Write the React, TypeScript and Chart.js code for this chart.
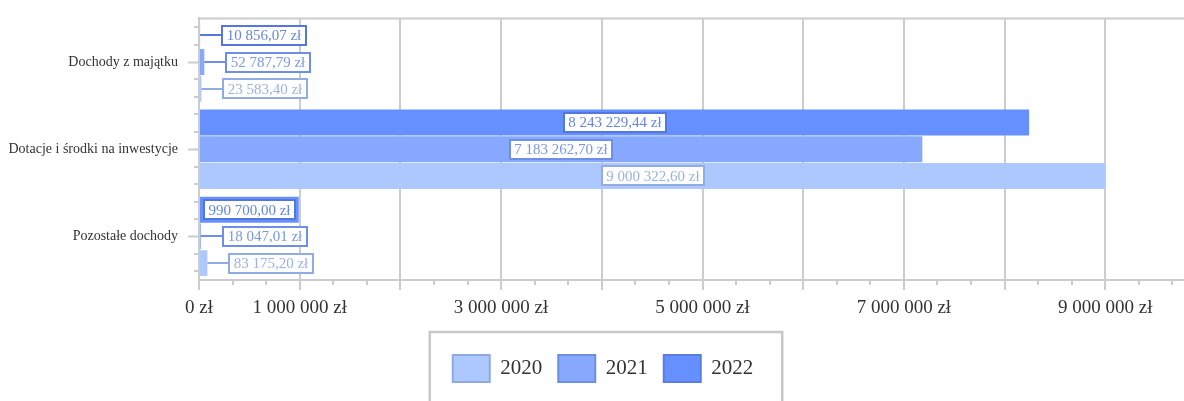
import React, { useEffect, useRef } from 'react';
import { Chart, registerables } from 'chart.js';

Chart.register(...registerables);

// ---- data ----
const categories = ['Dochody z majątku', 'Dotacje i środki na inwestycje', 'Pozostałe dochody'];
const seriesNames = ['2022', '2021', '2020'];
const values2022 = [10856.07, 8243229.44, 990700.0];
const values2021 = [52787.79, 7183262.7, 18047.01];
const values2020 = [23583.4, 9000322.6, 83175.2];
const xTickLabelValues = [0, 1000000, 3000000, 5000000, 7000000, 9000000];
const xMin = 0;
const xMax = 10000000;
const xStep = 1000000;

// ---- styles ----
const FONT = "'Liberation Serif', 'Times New Roman', serif";
const fills = ['#6690ff', '#87a8ff', '#adc8ff'];
const swatchBorders = ['#5a7ddf', '#6e8fe0', '#8faae0'];
const labelBorders = ['#5577dd', '#6f8fe6', '#91abe3'];
const labelTexts = ['#6685e0', '#7a96e6', '#9ab2e6'];
const GRID = '#cccccc';

function groupInt(s: string) {
  return s.replace(/\B(?=(\d{3})+(?!\d))/g, ' ');
}
function formatZl(v: number) {
  const [i, f] = v.toFixed(2).split('.');
  return `${groupInt(i)},${f} zł`;
}
function formatTick(v: number) {
  return `${groupInt(String(Math.round(v)))} zł`;
}

const axisDecor = {
  id: 'axisDecor',
  afterDraw(chart: any) {
    const { ctx, chartArea, scales } = chart;
    const x = scales.x;
    const y = scales.y;
    ctx.save();
    ctx.strokeStyle = GRID;
    ctx.lineWidth = 2;
    ctx.beginPath();
    // top frame line
    ctx.moveTo(chartArea.left - 1, chartArea.top);
    ctx.lineTo(chartArea.right, chartArea.top);
    // x minor ticks (thirds)
    const minorX = xStep / 3;
    for (let k = 1; k * minorX < xMax; k++) {
      if (k % 3 === 0) continue;
      const px = Math.round(x.getPixelForValue(k * minorX));
      ctx.moveTo(px, chartArea.bottom);
      ctx.lineTo(px, chartArea.bottom + 5);
    }
    // y minor ticks (fifths)
    for (let i = 0; i < categories.length; i++) {
      for (const j of [-2, -1, 1, 2]) {
        const py = Math.round(y.getPixelForValue(i + j * 0.2));
        ctx.moveTo(chartArea.left - 5, py);
        ctx.lineTo(chartArea.left, py);
      }
    }
    ctx.stroke();

    // legend frame
    const lg = chart.legend;
    if (lg && lg.legendHitBoxes && lg.legendHitBoxes.length) {
      const hb = lg.legendHitBoxes;
      const l = Math.min(...hb.map((h: any) => h.left)) - 23;
      const r = Math.max(...hb.map((h: any) => h.left + h.width)) + 29;
      const t = lg.top - 7;
      ctx.beginPath();
      ctx.lineWidth = 2.5;
      ctx.strokeStyle = '#c8c8c8';
      ctx.moveTo(l, chart.height + 5);
      ctx.lineTo(l, t);
      ctx.lineTo(r, t);
      ctx.lineTo(r, chart.height + 5);
      ctx.stroke();
    }
    ctx.restore();
  },
};

const valueLabels = {
  id: 'valueLabels',
  afterDatasetsDraw(chart: any) {
    const ctx = chart.ctx;
    ctx.save();
    ctx.font = `15px ${FONT}`;
    ctx.textBaseline = 'middle';
    ctx.textAlign = 'center';
    chart.data.datasets.forEach((ds: any, di: number) => {
      const meta = chart.getDatasetMeta(di);
      meta.data.forEach((bar: any, j: number) => {
        const { x, y, base } = bar.getProps(['x', 'y', 'base'], true);
        const text = formatZl(ds.data[j]);
        const w = ctx.measureText(text).width;
        const bw = Math.round(w + 9);
        const bh = 19;
        const len = Math.abs(x - base);
        let left: number;
        if (bw + 4 <= len) {
          left = Math.round((x + base) / 2 - bw / 2);
        } else {
          left = Math.round(x + 22);
          ctx.beginPath();
          ctx.strokeStyle = labelBorders[di];
          ctx.lineWidth = 2;
          ctx.moveTo(x, Math.round(y));
          ctx.lineTo(left, Math.round(y));
          ctx.stroke();
        }
        const top = Math.round(y - bh / 2);
        ctx.fillStyle = '#ffffff';
        ctx.fillRect(left, top, bw, bh);
        ctx.strokeStyle = labelBorders[di];
        ctx.lineWidth = 2;
        ctx.strokeRect(left, top, bw, bh);
        ctx.fillStyle = labelTexts[di];
        ctx.fillText(text, left + bw / 2, y + 1);
      });
    });
    ctx.restore();
  },
};

export default function App() {
  const ref = useRef<HTMLCanvasElement>(null);

  useEffect(() => {
    if (!ref.current) return;
    const seriesValues = [values2022, values2021, values2020];
    const chart = new Chart(ref.current, {
      type: 'bar',
      data: {
        labels: categories,
        datasets: seriesNames.map((name, i) => ({
          label: name,
          data: seriesValues[i],
          backgroundColor: fills[i],
          borderWidth: 0,
          categoryPercentage: 0.92,
          barPercentage: 0.97,
        })),
      },
      options: {
        indexAxis: 'y',
        responsive: false,
        animation: false,
        devicePixelRatio: 1,
        layout: { padding: { top: 14, right: 9, bottom: 9, left: 0 } },
        scales: {
          x: {
            type: 'linear',
            min: xMin,
            max: xMax,
            afterFit: (scale: any) => {
              scale.height = 59;
            },
            ticks: {
              stepSize: xStep,
              autoSkip: false,
              maxRotation: 0,
              padding: 7,
              color: '#333',
              font: { family: FONT, size: 19 },
              callback: (value: any) =>
                xTickLabelValues.includes(Number(value)) ? formatTick(Number(value)) : '',
            },
            grid: {
              color: GRID,
              lineWidth: 2,
              drawTicks: true,
              tickLength: 10,
              tickColor: GRID,
              tickWidth: 2,
            },
            border: { display: true, color: GRID, width: 2 },
          },
          y: {
            type: 'category',
            afterFit: (scale: any) => {
              scale.width = 199;
            },
            ticks: {
              padding: 10,
              color: '#333',
              font: { family: FONT, size: 14 },
            },
            grid: {
              display: true,
              drawOnChartArea: false,
              drawTicks: true,
              offset: false,
              tickLength: 11,
              tickColor: GRID,
              tickWidth: 2,
              color: GRID,
            },
            border: { display: true, color: GRID, width: 2 },
          },
        },
        plugins: {
          legend: {
            display: true,
            position: 'bottom',
            reverse: true,
            labels: {
              boxWidth: 37,
              boxHeight: 27,
              padding: 16,
              color: '#333',
              font: { family: FONT, size: 21 },
              generateLabels: (c: any) => {
                const items = (Chart.defaults.plugins.legend.labels as any).generateLabels(c);
                return items.map((it: any) => ({
                  ...it,
                  strokeStyle: swatchBorders[it.datasetIndex],
                  lineWidth: 2,
                }));
              },
            },
          },
          tooltip: { enabled: false },
          title: { display: false },
        },
      } as any,
      plugins: [axisDecor, valueLabels],
    });
    return () => chart.destroy();
  }, []);

  return (
    <div
      style={{
        position: 'fixed',
        left: 0,
        top: 0,
        width: 1184,
        height: 401,
        overflow: 'hidden',
        background: '#ffffff',
      }}
    >
      <canvas ref={ref} width={1215} height={401} style={{ display: 'block', width: 1215, height: 401 }} />
    </div>
  );
}
